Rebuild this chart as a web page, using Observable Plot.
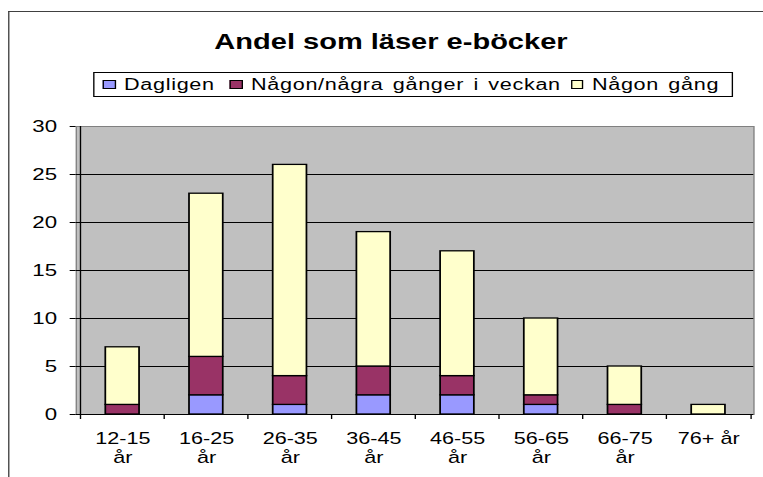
<!DOCTYPE html>
<html><head><meta charset="utf-8">
<script src="https://cdn.jsdelivr.net/npm/d3@7"></script>
<script src="https://cdn.jsdelivr.net/npm/@observablehq/plot@0.6"></script>
<style>
html,body{margin:0;padding:0;background:#fff;}
#outer{position:relative;width:763px;height:477px;overflow:hidden;background:#fff;font-family:Arial,"Liberation Sans",sans-serif;color:#000;}
#inner{position:absolute;left:0;top:0;width:565.2px;height:477px;transform:scaleX(1.35);transform-origin:0 0;}
#border{position:absolute;left:5.5px;top:11px;width:600px;height:500px;border-top:1.5px solid #404040;border-left:1.5px solid #404040;}
#title{position:absolute;left:0;top:32px;width:579.2px;text-align:center;font-size:21.5px;font-weight:bold;line-height:21px;margin:0;}
#legend{position:absolute;left:68.9px;top:72px;width:474px;height:25px;box-sizing:border-box;border:1px solid #000;font-size:16px;}
.item{position:absolute;top:0;height:23px;display:flex;align-items:center;white-space:nowrap;}
.item span{letter-spacing:0.5px;word-spacing:2px;}
.sw{width:9.6px;height:9px;box-sizing:border-box;border:1px solid #000;margin-right:6px;}
#chart{position:absolute;left:0;top:110px;}
</style></head>
<body>
<div id="outer"><div id="inner">
  <div id="border"></div>
  <h2 id="title"></h2>
  <div id="legend"></div>
  <div id="chart"></div>
</div></div>
<script>
const title = "Andel som läser e-böcker";
const categories = ["12-15 år","16-25 år","26-35 år","36-45 år","46-55 år","56-65 år","66-75 år","76+ år"];
const tickLabels = ["12-15\når","16-25\når","26-35\når","36-45\når","46-55\når","56-65\når","66-75\når","76+ år"];
const seriesNames = ["Dagligen","Någon/några gånger i veckan","Någon gång"];
const seriesColors = ["#9999FF","#993366","#FFFFCC"];
const dagligen    = [0, 2, 1, 2, 2, 1, 0, 0];
const nagraGanger = [1, 4, 3, 3, 2, 1, 1, 0];
const nagonGang   = [6, 17, 22, 14, 13, 8, 4, 1];
const yTicks = [0, 5, 10, 15, 20, 25, 30];
const legendOffsets = [6.4, 100.5, 353];

document.getElementById("title").textContent = title;
const legend = document.getElementById("legend");
seriesNames.forEach((s, i) => {
  const it = document.createElement("div"); it.className = "item"; it.style.left = legendOffsets[i] + "px";
  const sw = document.createElement("div"); sw.className = "sw"; sw.style.background = seriesColors[i];
  const tx = document.createElement("span"); tx.textContent = s;
  it.appendChild(sw); it.appendChild(tx); legend.appendChild(it);
});

const seriesValues = [dagligen, nagraGanger, nagonGang];
const data = seriesNames.flatMap((s, si) =>
  categories.map((c, ci) => ({category: c, series: s, value: seriesValues[si][ci]}))
).filter(d => d.value > 0);

const W = 565, H = 367, ML = 56, MR = 7, MT = 16, MB = 63;
const plotH = H - MT - MB;
const step = (W - ML - MR) / categories.length;

const chart = Plot.plot({
  width: W, height: H, marginLeft: ML, marginRight: MR, marginTop: MT, marginBottom: MB,
  style: {fontFamily: "Arial, 'Liberation Sans', sans-serif", fontSize: "16px", background: "transparent", color: "#000"},
  x: {type: "band", domain: categories, paddingInner: 0.6, paddingOuter: 0.3, label: null},
  y: {domain: [0, 30], label: null},
  color: {domain: seriesNames, range: seriesColors},
  marks: [
    Plot.frame({fill: "#C0C0C0", stroke: "#808080"}),
    Plot.ruleY(yTicks.filter(t => t > 0 && t < 30), {stroke: "#000", strokeWidth: 1}),
    Plot.barY(data, {x: "category", y: "value", fill: "series", stroke: "#000", strokeWidth: 1.3}),
    Plot.ruleY([0], {stroke: "#000", strokeWidth: 1}),
    Plot.ruleX([categories[0]], {dx: -step / 2, stroke: "#000", insetBottom: -5}),
    Plot.ruleX(categories.slice(1), {dx: -step / 2, stroke: "#000", insetTop: plotH, insetBottom: -5}),
    Plot.ruleX([categories[categories.length - 1]], {dx: step / 2, stroke: "#000", insetTop: plotH, insetBottom: -5}),
    Plot.axisY({ticks: yTicks, tickSize: 4.4, tickPadding: 9.8, fontSize: 16.5, label: null}),
    Plot.axisX({tickSize: 0, tickPadding: 14.8, fontSize: 16, lineHeight: 1.25,
      tickFormat: c => tickLabels[categories.indexOf(c)], label: null})
  ]
});
document.getElementById("chart").appendChild(chart);
</script>
</body></html>
